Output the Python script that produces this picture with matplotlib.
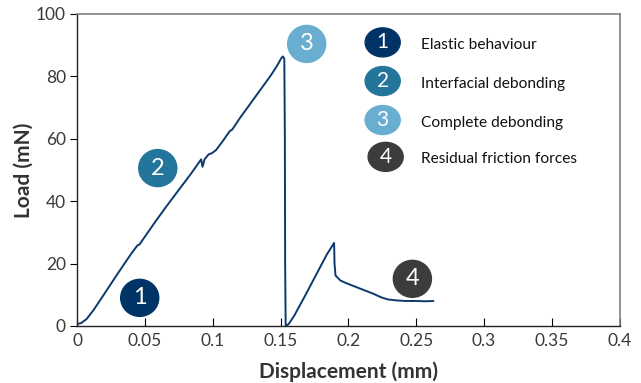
import matplotlib
matplotlib.use("Agg")
import matplotlib.pyplot as plt
from matplotlib.patches import Ellipse

plt.rcParams['font.family'] = ['Lato', 'DejaVu Sans']

# Load-displacement curve
disp = [0.0, 0.003, 0.007, 0.012, 0.020, 0.030, 0.040, 0.0445, 0.046, 0.050,
        0.058, 0.066, 0.075, 0.084, 0.0905, 0.0915, 0.0925, 0.094, 0.097,
        0.0995, 0.1025, 0.107, 0.1125, 0.1145, 0.120, 0.127, 0.135, 0.143,
        0.148, 0.1505, 0.1518, 0.1528, 0.1532, 0.1534, 0.1538, 0.156, 0.160,
        0.168, 0.176, 0.184, 0.1895, 0.1898, 0.1905, 0.194, 0.198, 0.205,
        0.212, 0.218, 0.224, 0.229, 0.235, 0.242, 0.250, 0.257, 0.2625]
load = [0.6, 0.9, 2.2, 5.0, 10.2, 16.8, 23.2, 25.8, 26.1, 28.6,
        33.6, 38.4, 43.6, 48.8, 52.8, 53.4, 51.0, 53.4, 55.0,
        55.4, 56.4, 59.0, 62.4, 63.0, 66.6, 70.8, 75.6, 80.4,
        83.8, 85.8, 86.4, 85.6, 60.0, 20.0, 0.0, 0.6, 3.2,
        9.6, 16.2, 22.8, 26.6, 20.0, 16.2, 14.6, 13.8, 12.6,
        11.4, 10.4, 9.2, 8.5, 8.2, 8.0, 8.0, 7.9, 8.0]

# Stage markers
stage_nums = ["1", "2", "3", "4"]
stage_colors = ["#003366", "#23759b", "#69aed0", "#3c3c3c"]
stage_x = [0.0462, 0.0595, 0.1693, 0.2472]
stage_y = [9.0, 50.6, 90.4, 15.1]

# Legend entries
legend_text = ["Elastic behaviour", "Interfacial debonding",
               "Complete debonding", "Residual friction forces"]
legend_x = [0.2253, 0.2253, 0.2253, 0.2275]
legend_y = [90.9, 78.5, 66.0, 54.2]

fig = plt.figure(figsize=(6.41, 3.83), dpi=100)
ax = fig.add_axes([0.1202, 0.149, 0.8465, 0.8145])

ax.plot(disp, load, color="#0b3a6d", linewidth=1.4, zorder=2)

ax.set_xlim(0, 0.4)
ax.set_ylim(0, 100)
ax.set_xticks([0, 0.05, 0.1, 0.15, 0.2, 0.25, 0.3, 0.35, 0.4])
ax.set_xticklabels(["0", "0.05", "0.1", "0.15", "0.2", "0.25", "0.3", "0.35", "0.4"])
ax.set_yticks([0, 20, 40, 60, 80, 100])

ax.tick_params(axis="x", direction="in", length=6, width=0.8,
               labelsize=12.5, labelcolor="#3a3a3a", pad=5)
ax.tick_params(axis="y", direction="out", length=5, width=0.8,
               labelsize=12.5, labelcolor="#3a3a3a", pad=3)
for side in ["left", "bottom"]:
    ax.spines[side].set_color("#222222")
    ax.spines[side].set_linewidth(1.0)
for side in ["top", "right"]:
    ax.spines[side].set_color("#808080")
    ax.spines[side].set_linewidth(1.2)

ax.set_xlabel("Displacement (mm)", fontsize=15, fontweight="bold",
              color="#333333", labelpad=9)
ax.set_ylabel("Load (mN)", fontsize=15, fontweight="bold",
              color="#333333", labelpad=2)

# circles on the curve
for n, c, x, y in zip(stage_nums, stage_colors, stage_x, stage_y):
    ax.add_patch(Ellipse((x, y), 38 / 1354, 37 / 3.12, color=c, zorder=3))
    ax.text(x, y, n, color="white", fontsize=17, ha="center", va="center",
            zorder=4)

# legend
for n, c, x, y, t in zip(stage_nums, stage_colors, legend_x, legend_y, legend_text):
    ax.add_patch(Ellipse((x, y), 35 / 1354, 29 / 3.12, color=c, zorder=3))
    ax.text(x, y, n, color="white", fontsize=15, ha="center", va="center",
            zorder=4)
    ax.text(0.2535, y - 0.8, t, color="#111111", fontsize=11.2, ha="left",
            va="center", zorder=4)

fig.savefig("out.png", dpi=100)
